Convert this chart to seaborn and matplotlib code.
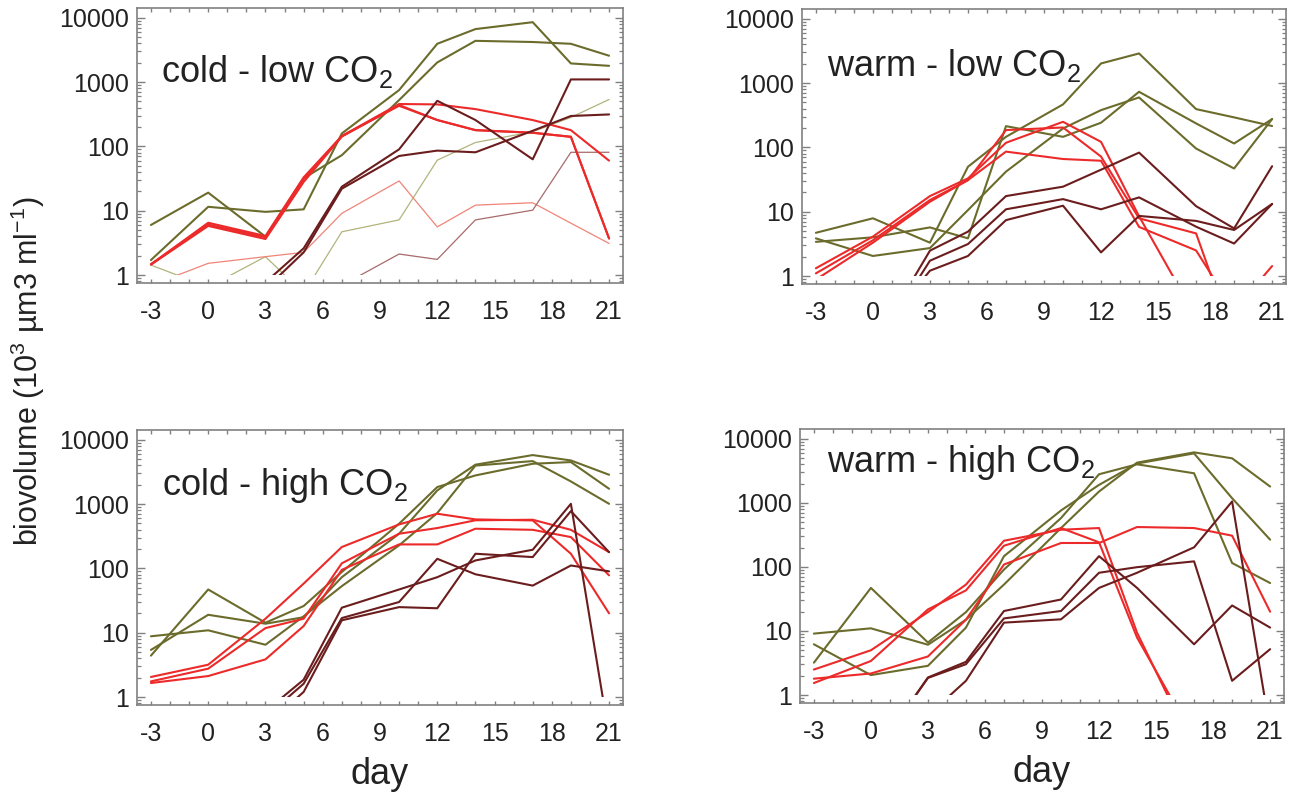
import numpy as np
import pandas as pd
import matplotlib
matplotlib.use("Agg")
import matplotlib.pyplot as plt
import matplotlib.ticker as mticker
from matplotlib.patches import Rectangle
import seaborn as sns

# sampling days (x) shared by every series
days = [-3, 0, 3, 5, 7, 10, 12, 14, 17, 19, 21]

# values below 1 are read from where a line meets the bottom of the plot
# cold - low CO2
cold_low_olive = [
    [6.0, 19.1, 3.95, 32, 73, 525, 2020, 4380, 4200, 3940, 2570],
    [1.71, 11.5, 9.6, 10.5, 159, 751, 3940, 6670, 8540, 1950, 1790],
]
cold_low_red = [
    [1.47, 6.5, 4.04, 33, 145, 456, 450, 380, 257, 179, 60],
    [1.47, 6.1, 3.85, 31, 145, 428, 257, 179, 163, 141, 3.7],
    [1.45, 5.8, 3.63, 28, 142, 440, 257, 179, 163, 141, 3.7],
]
cold_low_maroon = [
    [0.5, 0.5, 0.77, 2.6, 23.6, 90, 512, 257, 63, 1100, 1100],
    [0.4, 0.4, 0.61, 2.25, 22, 71, 86, 81, 175, 297, 314],
]
cold_low_thin_red = [0.69, 1.52, 1.93, 2.25, 9.1, 29, 5.6, 12.2, 13.3, 6.4, 3.1]
cold_low_thin_olive = [1.43, 0.65, 1.93, 0.52, 4.7, 7.2, 61, 115, 169, 282, 537]
cold_low_thin_maroon = [0.3, 0.3, 0.3, 0.3, 0.69, 2.12, 1.75, 7.2, 10.2, 81, 81]

# warm - low CO2
warm_low_olive = [
    [4.7, 7.9, 3.3, 50, 146, 466, 2020, 2890, 394, 293, 215],
    [3.4, 4.0, 5.7, 3.85, 214, 146, 242, 733, 236, 115, 276],
    [3.85, 2.05, 2.72, 10.6, 42, 197, 380, 598, 96, 47, 276],
]
warm_low_red = [
    [1.32, 4.1, 17.5, 33, 118, 250, 122, 8.5, 0.23, 0.1, 0.1],
    [1.1, 3.6, 15.2, 31, 186, 204, 72, 7.9, 4.6, 0.1, 0.1],
    [0.88, 3.3, 14.3, 31, 86, 66, 62, 5.8, 2.5, 0.29, 1.43],
]
warm_low_maroon = [
    [0.08, 0.08, 2.48, 4.9, 17.5, 24.5, 45, 83, 12.2, 5.5, 51],
    [0.07, 0.07, 1.73, 3.14, 10.9, 15.7, 10.9, 16.7, 5.85, 3.2, 13.2],
    [0.1, 0.1, 1.21, 2.05, 7.4, 12.4, 2.33, 8.6, 7.2, 5.2, 13.2],
]

# cold - high CO2
cold_high_olive = [
    [4.4, 47, 14.3, 26, 88, 495, 1840, 2790, 4240, 4500, 1730],
    [5.4, 19, 13.8, 17.4, 73, 346, 1630, 4100, 5780, 4770, 2860],
    [8.8, 10.9, 6.5, 18, 53, 228, 725, 3970, 4660, 2250, 1010],
]
cold_high_red = [
    [2.05, 3.18, 16.5, 58, 215, 483, 708, 578, 557, 169, 20],
    [1.75, 2.76, 11.8, 16.5, 120, 346, 424, 560, 571, 398, 179],
    [1.65, 2.12, 3.85, 12.7, 95, 236, 236, 414, 398, 307, 78],
]
cold_high_maroon = [
    [0.5, 0.5, 0.6, 1.86, 24.5, 47, 73, 133, 195, 1010, 0.25],
    [0.4, 0.4, 0.49, 1.61, 16.9, 30, 141, 81, 54, 111, 90],
    [0.3, 0.3, 0.36, 1.2, 15.6, 25, 24, 169, 150, 778, 179],
]

# warm - high CO2
warm_high_olive = [
    [3.2, 47, 6.6, 19.7, 91, 578, 2790, 3990, 2890, 115, 56],
    [9.1, 11, 6.1, 15, 53, 404, 1500, 4240, 6130, 4950, 1795],
    [6.2, 2.05, 2.86, 11.3, 147, 760, 1905, 4100, 5910, 1180, 266],
]
warm_high_red = [
    [2.5, 5.0, 19.7, 53, 256, 380, 404, 9.4, 0.14, 0.1, 0.1],
    [1.54, 3.4, 21.7, 43, 214, 404, 242, 7.9, 0.21, 0.1, 0.1],
    [1.8, 2.17, 4.0, 15, 109, 236, 236, 419, 404, 307, 20],
]
warm_high_maroon = [
    [0.1, 0.1, 1.88, 3.3, 20.5, 31, 147, 47, 6.2, 25, 11.3],
    [0.1, 0.1, 1.85, 3.03, 15.7, 20.5, 81, 99, 122, 1.67, 5.2],
    [0.3, 0.3, 0.48, 1.67, 13.5, 15.2, 47, 81, 202, 1050, 0.28],
]

panel_titles = ["cold - low", "warm - low", "cold - high", "warm - high"]
xtick_values = [-3, 0, 3, 6, 9, 12, 15, 18, 21]
ytick_values = [1, 10, 100, 1000, 10000]
ytick_labels = ["1", "10", "100", "1000", "10000"]

OLIVE = "#6b6c2c"
RED = "#ec2a2a"
MAROON = "#6b1d1d"
THIN_RED = "#f08478"
THIN_OLIVE = "#b2b47c"
THIN_MAROON = "#a86a6a"
FRAME = "#808080"

sns.set_theme(style="ticks")
plt.rcParams["font.family"] = ["Liberation Sans", "DejaVu Sans"]
plt.rcParams["mathtext.fontset"] = "custom"
plt.rcParams["mathtext.rm"] = "Liberation Sans"
plt.rcParams["text.color"] = "#222222"

W, H = 1296, 793
fig = plt.figure(figsize=(W / 100, H / 100), dpi=100)

# axes boxes in pixels: left, top, right, bottom
boxes = [(137, 8, 623, 283), (802, 9, 1286, 284),
         (137, 430, 623, 705), (800, 429, 1284, 703)]
title_pos = [(0.05, 0.732), (0.052, 0.756), (0.052, 0.764), (0.055, 0.844)]

panel_data = [
    (cold_low_olive, cold_low_red, cold_low_maroon),
    (warm_low_olive, warm_low_red, warm_low_maroon),
    (cold_high_olive, cold_high_red, cold_high_maroon),
    (warm_high_olive, warm_high_red, warm_high_maroon),
]

axes = []
for i, (olive, red, maroon) in enumerate(panel_data):
    l, t, r, b = boxes[i]
    ax = fig.add_axes([l / W, 1 - b / H, (r - l) / W, (b - t) / H])
    axes.append(ax)

    if i == 0:
        # thin lines only in the first panel
        for vals, c in [(cold_low_thin_olive, THIN_OLIVE),
                        (cold_low_thin_red, THIN_RED),
                        (cold_low_thin_maroon, THIN_MAROON)]:
            sns.lineplot(x=days, y=vals, color=c, lw=0.9, ax=ax)

    for vals in olive:
        sns.lineplot(x=days, y=vals, color=OLIVE, lw=1.5, ax=ax)
    for vals in red:
        sns.lineplot(x=days, y=vals, color=RED, lw=1.5, ax=ax)
    for vals in maroon:
        sns.lineplot(x=days, y=vals, color=MAROON, lw=1.5, ax=ax)

    ax.set_yscale("log")
    ax.set_xlim(-3.73, 21.73)
    ax.set_ylim(10 ** -0.124, 10 ** 4.152)

    # lines stop at the value 1
    clip = Rectangle((-10, 1), 45, 1e7, transform=ax.transData)
    for ln in ax.lines:
        ln.set_clip_path(clip)

    ax.set_xticks(xtick_values)
    ax.set_xticklabels([str(v) for v in xtick_values])
    ax.xaxis.set_minor_locator(mticker.MultipleLocator(1))
    ax.set_yticks(ytick_values)
    ax.set_yticklabels(ytick_labels)
    ax.yaxis.set_minor_locator(mticker.LogLocator(base=10, subs=np.arange(2, 10)))
    ax.yaxis.set_minor_formatter(mticker.NullFormatter())

    ax.tick_params(axis="x", which="both", direction="in", top=True, bottom=True,
                   length=3.2, width=1.0, color=FRAME, labelsize=18, pad=12,
                   labelcolor="#222222")
    ax.tick_params(axis="y", which="major", direction="in", left=True, right=True,
                   length=6, width=1.0, color=FRAME, labelsize=18, pad=6,
                   labelcolor="#222222")
    ax.tick_params(axis="y", which="minor", direction="in", left=True, right=True,
                   length=3.2, width=0.9, color=FRAME)
    for sp in ax.spines.values():
        sp.set_visible(True)
        sp.set_color(FRAME)
        sp.set_linewidth(1.2)

    ax.set_xlabel("")
    ax.set_ylabel("")
    tx, ty = title_pos[i]
    ax.text(tx, ty, panel_titles[i] + r" CO$_{\mathregular{2}}$",
            transform=ax.transAxes, fontsize=26, ha="left", va="baseline",
            color="#222222")

for ax in axes[2:]:
    ax.set_xlabel("day", fontsize=26, labelpad=8, color="#222222")

fig.text(28 / W, 1 - 371 / H,
         r"biovolume (10$^{\mathregular{3}}$ µm3 ml$^{\mathregular{-1}}$)",
         rotation=90, ha="center", va="center", fontsize=22, color="#222222")

fig.savefig("out.png", dpi=100)
